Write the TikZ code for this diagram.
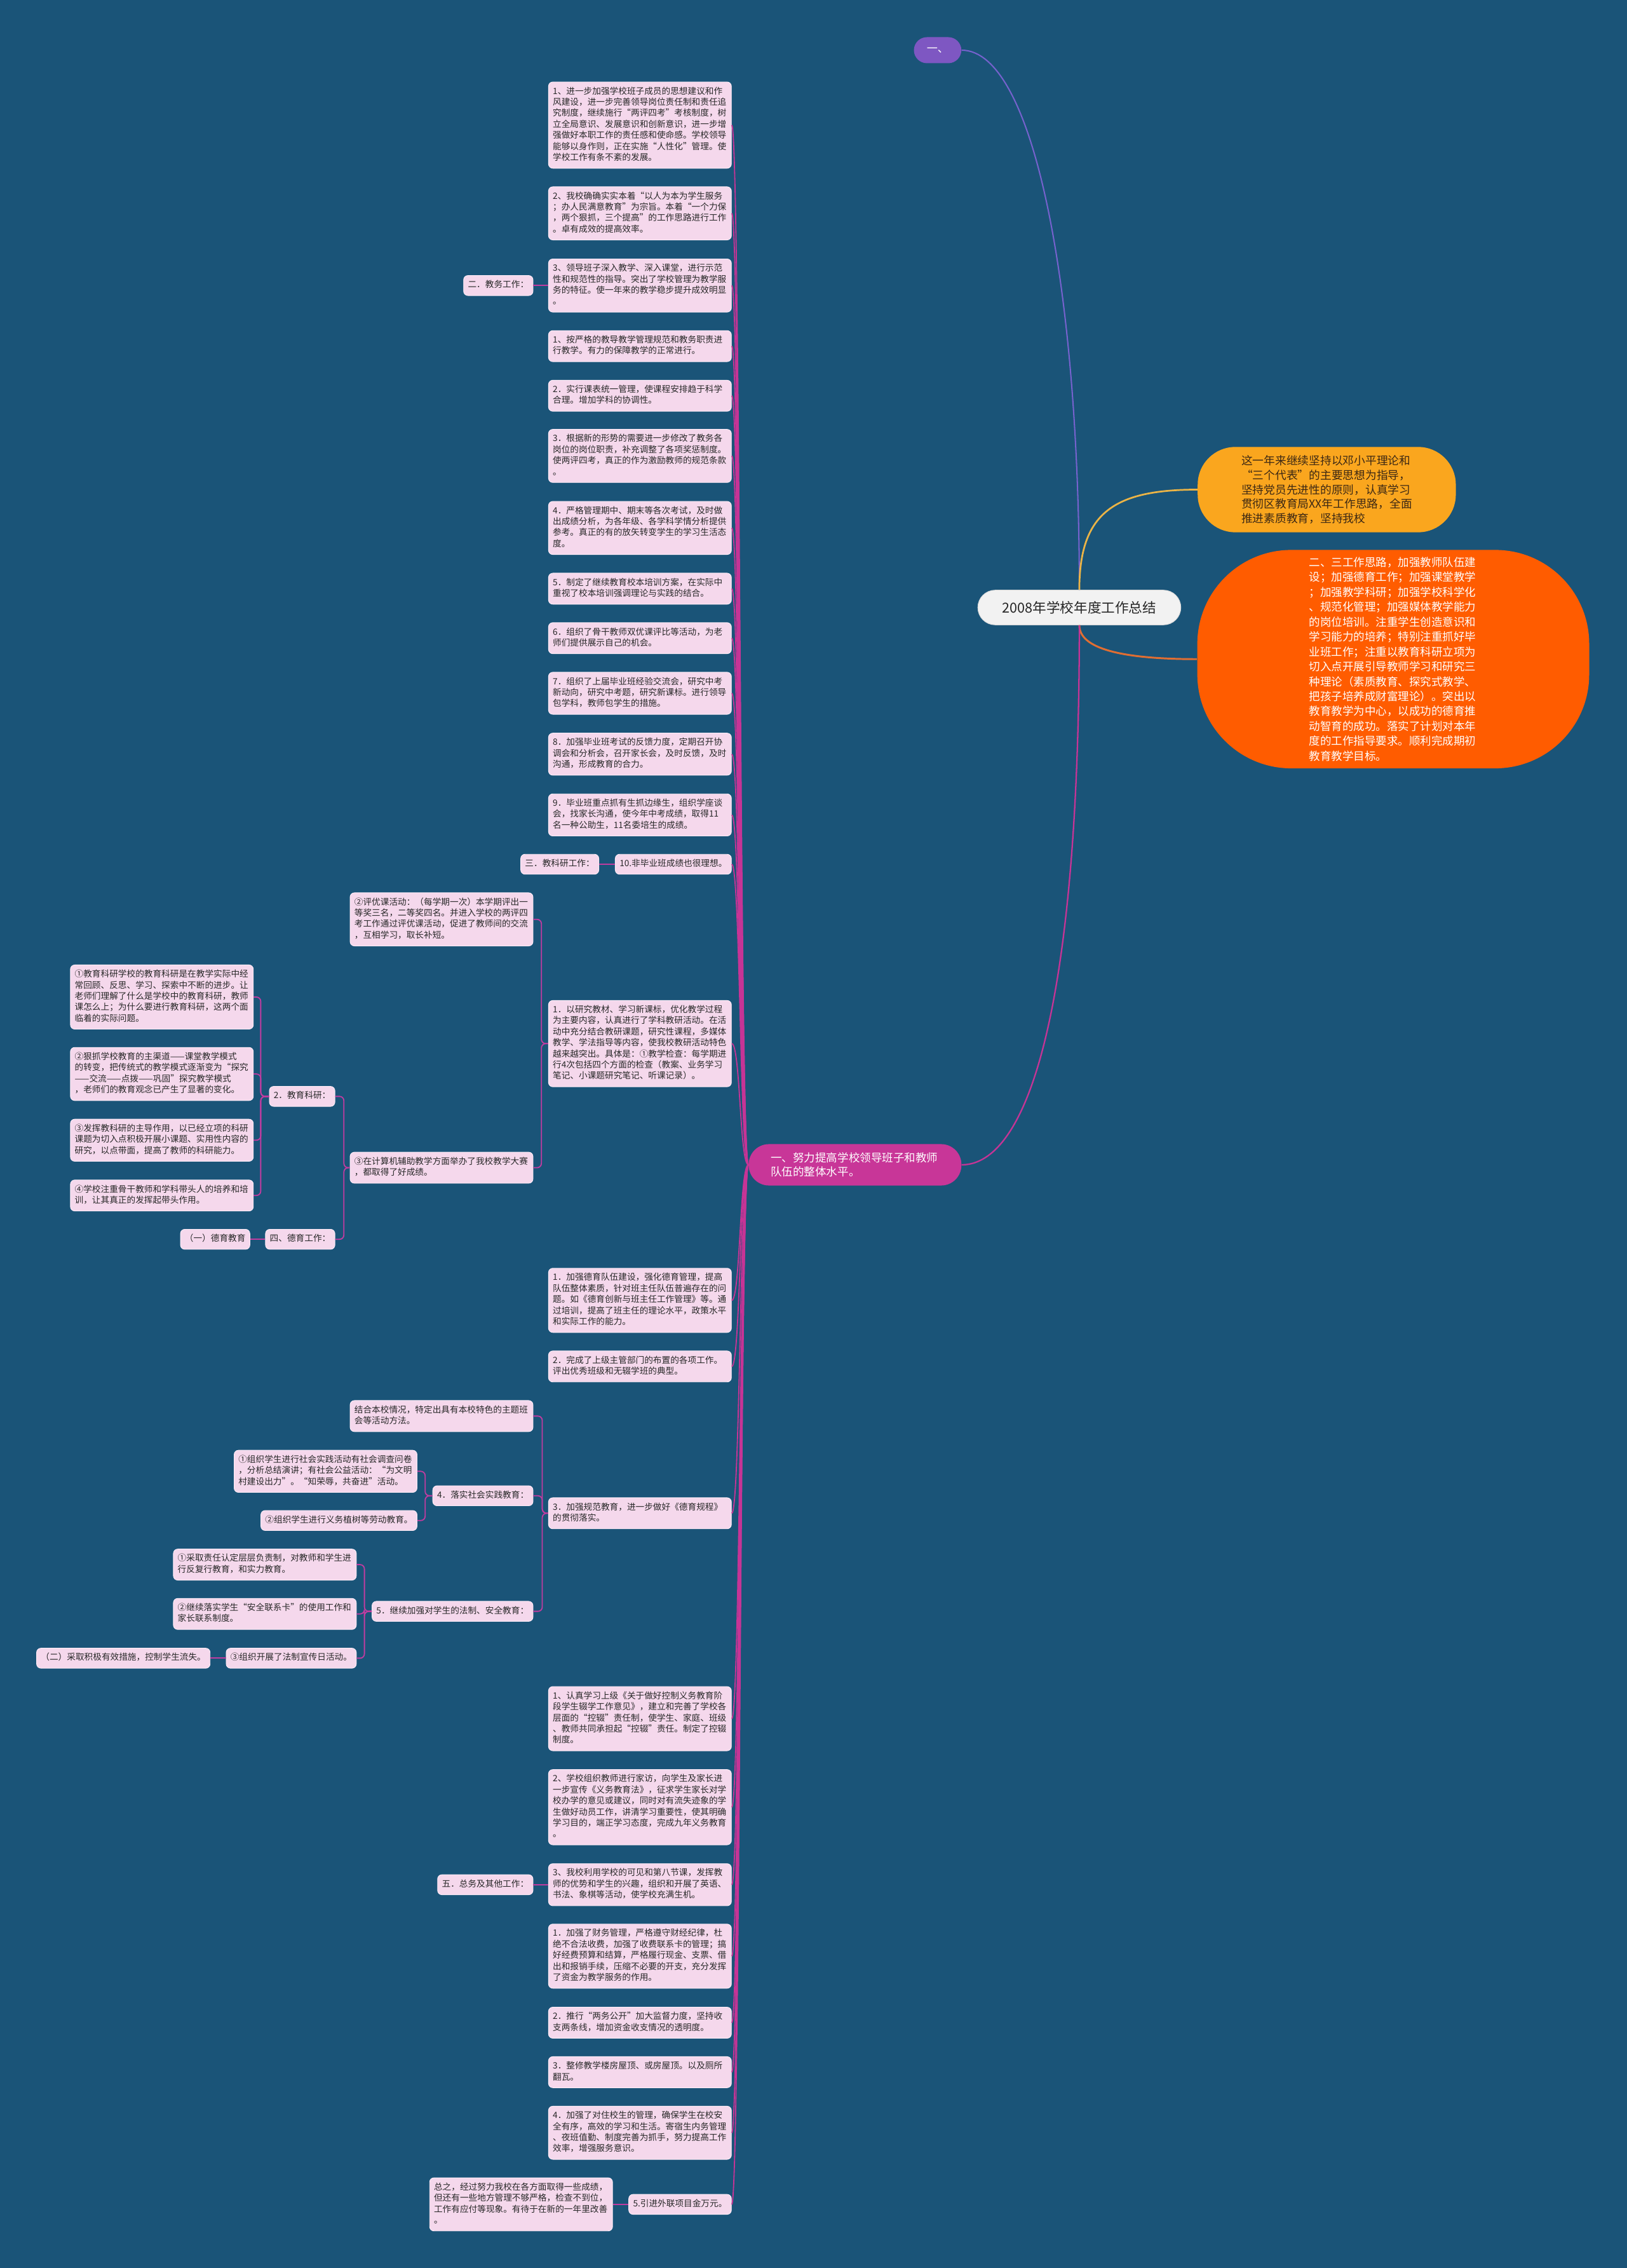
\documentclass[tikz,border=0pt]{standalone}
\usepackage{fontspec}
\setmainfont{Noto Sans CJK SC}
\definecolor{bg}{RGB}{26,84,120}
\definecolor{boxfill}{RGB}{245,216,236}
\definecolor{boxedge}{RGB}{252,236,247}
\definecolor{boxtext}{RGB}{40,40,40}
\definecolor{linkc}{RGB}{192,60,160}
\definecolor{trunkc}{RGB}{198,52,150}
\definecolor{magfill}{RGB}{200,54,152}
\definecolor{purp}{RGB}{126,87,194}
\definecolor{purpline}{RGB}{118,98,205}
\definecolor{yel}{RGB}{250,166,30}
\definecolor{yline}{RGB}{235,180,70}
\definecolor{ytext}{RGB}{60,40,20}
\definecolor{org}{RGB}{255,92,0}
\definecolor{oline}{RGB}{225,110,50}
\definecolor{rootfill}{RGB}{242,242,242}
\begin{document}
\begin{tikzpicture}[x=1pt,y=-1pt,
  box/.style={draw=boxedge, line width=0.4pt, fill=boxfill, rounded corners=3pt,
    inner xsep=3pt, inner ysep=3.1pt, font=\fontsize{6}{7.64}\selectfont, text=boxtext,
    execute at begin node=\strut, execute at end node=\strut, anchor=east},
  wbox/.style={box, text width=120.5pt, align=left},
  link/.style={draw=linkc, line width=0.8pt, rounded corners=3pt},
  trunk/.style={draw=trunkc, line width=0.8pt}]
\path[use as bounding box, fill=bg] (0,0) rectangle (1125,1568);

% root and first level
\node[draw=white!85!black, line width=0.4pt, fill=rootfill, rounded corners=12pt, minimum width=140.4pt, minimum height=24pt,
  inner sep=0pt, font=\fontsize{9.5}{11}\selectfont, text=black!85] (R) at (746.4,420) {2008年学校年度工作总结};
\node[fill=purp, rounded corners=9pt, minimum width=32.8pt, minimum height=18pt, inner sep=0pt,
  font=\fontsize{7.5}{9}\selectfont, text=white] (P) at (648.4,34.7) {一、};
\node[fill=yel, rounded corners=26pt, minimum width=178.5pt, minimum height=59pt, inner sep=0pt,
  text width=118pt, align=left, font=\fontsize{7.8}{10}\selectfont, text=ytext] (Y) at (917.5,338.5)
  {这一年来继续坚持以邓小平理论和\\“三个代表”的主要思想为指导，\\坚持党员先进性的原则，认真学习\\贯彻区教育局XX年工作思路，全面\\推进素质教育，坚持我校};
\node[fill=org, rounded corners=65pt, minimum width=271pt, minimum height=151pt, inner sep=0pt,
  text width=116.5pt, align=left, font=\fontsize{7.7}{10.3}\selectfont, text=white] (O) at (963.5,455.7)
  {二、三工作思路，加强教师队伍建\\设；加强德育工作；加强课堂教学\\；加强教学科研；加强学校科学化\\、规范化管理；加强媒体教学能力\\的岗位培训。注重学生创造意识和\\学习能力的培养；特别注重抓好毕\\业班工作；注重以教育科研立项为\\切入点开展引导教师学习和研究三\\种理论（素质教育、探究式教学、\\把孩子培养成财富理论）。突出以\\教育教学为中心，以成功的德育推\\动智育的成功。落实了计划对本年\\度的工作指导要求。顺利完成期初\\教育教学目标。};
\node[fill=magfill, rounded corners=14pt, minimum height=28.6pt, inner xsep=15.3pt, inner ysep=0pt,
  text width=116.5pt, align=left, font=\fontsize{7.7}{9.5}\selectfont, text=white] (M) at (591.3,805.3)
  {一、努力提高学校领导班子和教师\\队伍的整体水平。};

% right column
\node[wbox] (A1) at (506,86.5) {1、进一步加强学校班子成员的思想建议和作\\风建设，进一步完善领导岗位责任制和责任追\\究制度，继续施行“两评四考”考核制度，树\\立全局意识、发展意识和创新意识，进一步增\\强做好本职工作的责任感和使命感。学校领导\\能够以身作则，正在实施“人性化”管理。使\\学校工作有条不紊的发展。};
\node[wbox] (A2) at (506,147.5) {2、我校确确实实本着“以人为本为学生服务\\；办人民满意教育”为宗旨。本着“一个力保\\，两个狠抓，三个提高”的工作思路进行工作\\。卓有成效的提高效率。};
\node[wbox] (A3) at (506,197.4) {3、领导班子深入教学、深入课堂，进行示范\\性和规范性的指导。突出了学校管理为教学服\\务的特征。使一年来的教学稳步提升成效明显\\。};
\node[wbox] (B1) at (506,239.3) {1、按严格的教导教学管理规范和教务职责进\\行教学。有力的保障教学的正常进行。};
\node[wbox] (B2) at (506,273.6) {2．实行课表统一管理，使课程安排趋于科学\\合理。增加学科的协调性。};
\node[wbox] (B3) at (506,315.2) {3．根据新的形势的需要进一步修改了教务各\\岗位的岗位职责，补充调整了各项奖惩制度。\\使两评四考，真正的作为激励教师的规范条款\\。};
\node[wbox] (B4) at (506,365) {4．严格管理期中、期末等各次考试，及时做\\出成绩分析，为各年级、各学科学情分析提供\\参考。真正的有的放矢转变学生的学习生活态\\度。};
\node[wbox] (B5) at (506,407) {5．制定了继续教育校本培训方案，在实际中\\重视了校本培训强调理论与实践的结合。};
\node[wbox] (B6) at (506,441.2) {6．组织了骨干教师双优课评比等活动，为老\\师们提供展示自己的机会。};
\node[wbox] (B7) at (506,479.3) {7．组织了上届毕业班经验交流会，研究中考\\新动向，研究中考题，研究新课标。进行领导\\包学科，教师包学生的措施。};
\node[wbox] (B8) at (506,521.4) {8．加强毕业班考试的反馈力度，定期召开协\\调会和分析会，召开家长会，及时反馈，及时\\沟通，形成教育的合力。};
\node[wbox] (B9) at (506,563.4) {9．毕业班重点抓有生抓边缘生，组织学座谈\\会，找家长沟通，使今年中考成绩，取得11\\名一种公助生，11名委培生的成绩。};
\node[box] (B10) at (506,597.5) {10.非毕业班成绩也很理想。};
\node[wbox] (C1) at (506,721.5) {1．以研究教材、学习新课标，优化教学过程\\为主要内容，认真进行了学科教研活动。在活\\动中充分结合教研课题，研究性课程，多媒体\\教学、学法指导等内容，使我校教研活动特色\\越来越突出。具体是：①教学检查：每学期进\\行4次包括四个方面的检查（教案、业务学习\\笔记、小课题研究笔记、听课记录）。};
\node[wbox] (D1) at (506,899) {1．加强德育队伍建设，强化德育管理，提高\\队伍整体素质，针对班主任队伍普遍存在的问\\题。如《德育创新与班主任工作管理》等。通\\过培训，提高了班主任的理论水平，政策水平\\和实际工作的能力。};
\node[wbox] (D2) at (506,944.7) {2．完成了上级主管部门的布置的各项工作。\\评出优秀班级和无辍学班的典型。};
\node[wbox] (D3) at (506,1046.2) {3．加强规范教育，进一步做好《德育规程》\\的贯彻落实。};
\node[wbox] (E1) at (506,1188.2) {1、认真学习上级《关于做好控制义务教育阶\\段学生辍学工作意见》，建立和完善了学校各\\层面的“控辍”责任制，使学生、家庭、班级\\、教师共同承担起“控辍”责任。制定了控辍\\制度。};
\node[wbox] (E2) at (506,1249.4) {2、学校组织教师进行家访，向学生及家长进\\一步宣传《义务教育法》，征求学生家长对学\\校办学的意见或建议，同时对有流失迹象的学\\生做好动员工作，讲清学习重要性，使其明确\\学习目的，端正学习态度，完成九年义务教育\\。};
\node[wbox] (E3) at (506,1303) {3、我校利用学校的可见和第八节课，发挥教\\师的优势和学生的兴趣，组织和开展了英语、\\书法、象棋等活动，使学校充满生机。};
\node[wbox] (F1) at (506,1352.4) {1．加强了财务管理，严格遵守财经纪律，杜\\绝不合法收费，加强了收费联系卡的管理；搞\\好经费预算和结算，严格履行现金、支票、借\\出和报销手续，压缩不必要的开支，充分发挥\\了资金为教学服务的作用。};
\node[wbox] (F2) at (506,1398.4) {2．推行“两务公开”加大监督力度，坚持收\\支两条线，增加资金收支情况的透明度。};
\node[wbox] (F3) at (506,1432.6) {3．整修教学楼房屋顶、或房屋顶。以及厕所\\翻瓦。};
\node[wbox] (F4) at (506,1474.5) {4．加强了对住校生的管理，确保学生在校安\\全有序，高效的学习和生活。寄宿生内务管理\\、夜班值勤、制度完善为抓手，努力提高工作\\效率，增强服务意识。};
\node[box] (F5) at (506,1524) {5.引进外联项目金万元。};

% left subtrees
\node[box] (JW) at (368.8,197.4) {二．教务工作：};
\node[box] (KY) at (414.3,597.5) {三．教科研工作：};
\node[wbox] (PY) at (368.8,635.6) {②评优课活动：（每学期一次）本学期评出一\\等奖三名，二等奖四名。并进入学校的两评四\\考工作通过评优课活动，促进了教师间的交流\\，互相学习，取长补短。};
\node[wbox] (JS) at (368.8,807.3) {③在计算机辅助教学方面举办了我校教学大赛\\，都取得了好成绩。};
\node[box] (JKY) at (231.8,758) {2．教育科研：};
\node[box] (DY) at (231.8,856.8) {四、德育工作：};
\node[wbox] (K1) at (175.4,689.3) {①教育科研学校的教育科研是在教学实际中经\\常回顾、反思、学习、探索中不断的进步。让\\老师们理解了什么是学校中的教育科研，教师\\课怎么上；为什么要进行教育科研，这两个面\\临着的实际问题。};
\node[wbox] (K2) at (175.4,742.5) {②狠抓学校教育的主渠道——课堂教学模式\\的转变，把传统式的教学模式逐渐变为“探究\\——交流——点拨——巩固”探究教学模式\\，老师们的教育观念已产生了显著的变化。};
\node[wbox] (K3) at (175.4,788.3) {③发挥教科研的主导作用，以已经立项的科研\\课题为切入点积极开展小课题、实用性内容的\\研究，以点带面，提高了教师的科研能力。};
\node[wbox] (K4) at (175.4,826.5) {④学校注重骨干教师和学科带头人的培养和培\\训，让其真正的发挥起带头作用。};
\node[box] (DY1) at (173,856.8) {（一）德育教育};
\node[wbox] (JH) at (368.8,979) {结合本校情况，特定出具有本校特色的主题班\\会等活动方法。};
\node[box] (LS) at (368.8,1034.1) {4．落实社会实践教育：};
\node[box] (JX) at (368.8,1114) {5．继续加强对学生的法制、安全教育：};
\node[wbox] (S1) at (288.6,1017.2) {①组织学生进行社会实践活动有社会调查问卷\\，分析总结演讲；有社会公益活动：“为文明\\村建设出力”。“知荣辱，共奋进”活动。};
\node[box] (S2) at (288.6,1051.2) {②组织学生进行义务植树等劳动教育。};
\node[wbox] (X1) at (246.6,1081.7) {①采取责任认定层层负责制，对教师和学生进\\行反复行教育，和实力教育。};
\node[wbox] (X2) at (246.6,1115.8) {②继续落实学生“安全联系卡”的使用工作和\\家长联系制度。};
\node[box] (X3) at (246.6,1146.4) {③组织开展了法制宣传日活动。};
\node[box] (ER) at (145.5,1146.4) {（二）采取积极有效措施，控制学生流失。};
\node[box] (ZW) at (368.8,1303) {五．总务及其他工作：};
\node[wbox] (ZZ) at (423.8,1524) {总之，经过努力我校在各方面取得一些成绩，\\但还有一些地方管理不够严格，检查不到位，\\工作有应付等现象。有待于在新的一年里改善\\。};

% junction coordinates
\coordinate (jC1) at (374.4,0);
\coordinate (jJS) at (237.8,0);
\coordinate (jJKY) at (180.3,0);
\coordinate (jD3) at (375,0);
\coordinate (jLS) at (294,0);
\coordinate (jJX) at (252,0);

% root connectors
\draw[purpline, line width=0.9pt] (R.north) .. controls +(0,-208) and +(50,0) .. (P.east);
\draw[yline, line width=1.2pt] (R.north) .. controls +(0,-53) and +(-58,0) .. (Y.west);
\draw[oline, line width=1.3pt] (R.south) .. controls +(0,16) and +(-53,0) .. (O.west);
\draw[trunkc, line width=1pt] (R.south) .. controls +(0,268) and +(45,0) .. (M.east);

% trunk
\foreach \n in {A1,A2,A3,B1,B2,B3,B4,B5,B6,B7,B8,B9,B10,C1,D1,D2,D3,E1,E2,E3,F1,F2,F3,F4,F5}
  \draw[trunk] (M.west) .. controls +(-6,0) and +(6,0) .. (\n.east);

% subtree links
\draw[link] (A3.west) -- (JW.east);
\draw[link] (B10.west) -- (KY.east);
\foreach \c in {PY,JS} \draw[link] (C1.west) -- (C1.west -| jC1) |- (\c.east);
\foreach \c in {JKY,DY} \draw[link] (JS.west) -- (JS.west -| jJS) |- (\c.east);
\foreach \c in {K1,K2,K3,K4} \draw[link] (JKY.west) -- (JKY.west -| jJKY) |- (\c.east);
\draw[link] (DY.west) -- (DY1.east);
\foreach \c in {JH,LS,JX} \draw[link] (D3.west) -- (D3.west -| jD3) |- (\c.east);
\foreach \c in {S1,S2} \draw[link] (LS.west) -- (LS.west -| jLS) |- (\c.east);
\foreach \c in {X1,X2,X3} \draw[link] (JX.west) -- (JX.west -| jJX) |- (\c.east);
\draw[link] (X3.west) -- (ER.east);
\draw[link] (E3.west) -- (ZW.east);
\draw[link] (F5.west) -- (ZZ.east);
\end{tikzpicture}
\end{document}
